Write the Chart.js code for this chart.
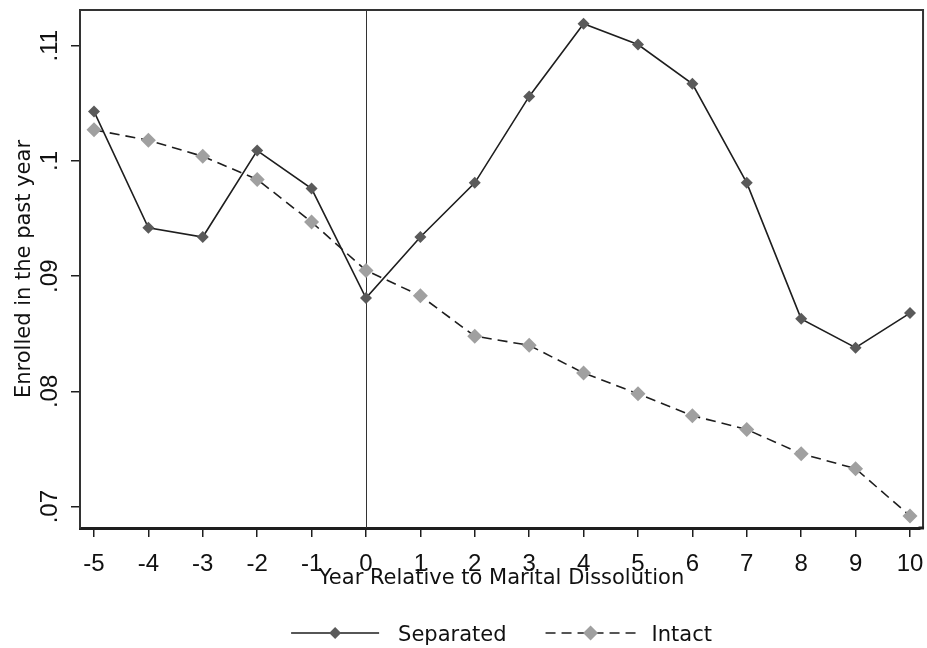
<!DOCTYPE html>
<html>
<head>
<meta charset="utf-8">
<script src="https://cdn.jsdelivr.net/npm/chart.js@4"></script>
<style>
html,body{margin:0;padding:0;background:#fff;}
#wrap{width:927px;height:648px;}
</style>
</head>
<body>
<div id="wrap"><canvas id="c" width="927" height="648"></canvas></div>
<script>
// ---- data ----
const years = [-5,-4,-3,-2,-1,0,1,2,3,4,5,6,7,8,9,10];
const separated = [0.1043,0.0942,0.0934,0.1009,0.0976,0.0881,0.0934,0.0981,0.1056,0.1119,0.1101,0.1067,0.0981,0.0863,0.0838,0.0868];
const intact = [0.1027,0.1018,0.1004,0.0984,0.0947,0.0905,0.0883,0.0848,0.0840,0.0816,0.0798,0.0779,0.0767,0.0746,0.0733,0.0692];
const yTicks = [0.07,0.08,0.09,0.10,0.11];
const yTickLabels = ['.07','.08','.09','.1','.11'];
const xTitle = 'Year Relative to Marital Dissolution';
const yTitle = 'Enrolled in the past year';
const seriesNames = ['Separated','Intact'];
const xFrameEnd = 10.24; // right edge of the plot frame, in x units

const TICK_FONT = '"Liberation Sans", Arial, sans-serif';
const TEXT_FONT = '"DejaVu Sans", sans-serif';
const INK = '#1e1e1e';
const SEP_MARK = '#5a5a5a';
const INT_MARK = '#a0a0a0';
const DASH = [10,6];
const ZERO_PAD = () => ({left: 0, top: 0, right: 0, bottom: 0});

const decor = {
  id: 'decor',
  beforeDatasetsDraw(chart) {
    const {ctx, chartArea: a, scales: {x}} = chart;
    ctx.save();
    const x0 = Math.round(x.getPixelForValue(0)) + 0.5;
    const xr = Math.min(chart.width - 3, x.getPixelForValue(xFrameEnd));
    ctx.strokeStyle = '#333';
    ctx.lineWidth = 1;
    ctx.beginPath(); ctx.moveTo(x0, a.top); ctx.lineTo(x0, a.bottom); ctx.stroke();
    // frame top / right
    ctx.lineWidth = 2;
    ctx.beginPath();
    ctx.moveTo(a.left, a.top); ctx.lineTo(xr, a.top); ctx.lineTo(xr, a.bottom);
    ctx.stroke();
    // extend the bottom axis line to the frame edge
    ctx.strokeStyle = INK;
    ctx.lineWidth = 3;
    ctx.beginPath(); ctx.moveTo(a.right - 1, a.bottom); ctx.lineTo(xr + 1, a.bottom); ctx.stroke();
    ctx.restore();
  },
  afterDraw(chart) {
    const {ctx, chartArea: a, scales: {x, y}} = chart;
    const xr = Math.min(chart.width - 3, x.getPixelForValue(xFrameEnd));
    ctx.save();
    ctx.fillStyle = '#111';
    ctx.font = '24px ' + TICK_FONT;
    ctx.textAlign = 'center';
    ctx.textBaseline = 'alphabetic';
    yTicks.forEach((v, i) => {
      const py = y.getPixelForValue(v);
      ctx.save(); ctx.translate(57, py); ctx.rotate(-Math.PI/2);
      ctx.fillText(yTickLabels[i], 0, 0); ctx.restore();
    });
    ctx.font = '21px ' + TEXT_FONT;
    ctx.save(); ctx.translate(30, (a.top + a.bottom)/2); ctx.rotate(-Math.PI/2);
    ctx.fillText(yTitle, 0, 0); ctx.restore();
    const cx = (a.left + xr)/2;
    ctx.fillText(xTitle, cx, 584);
    const ly = 633;
    const w1 = ctx.measureText(seriesNames[0]).width;
    const w2 = ctx.measureText(seriesNames[1]).width;
    const L1 = 88, G1 = 19, G2 = 39, L2 = 90, G3 = 16;
    const total = L1 + G1 + w1 + G2 + L2 + G3 + w2;
    let lx = cx - total/2;
    const ds = chart.data.datasets;
    ctx.strokeStyle = INK; ctx.lineWidth = 1.5;
    ctx.beginPath(); ctx.moveTo(lx, ly); ctx.lineTo(lx + L1, ly); ctx.stroke();
    drawDiamond(ctx, lx + L1/2, ly, ds[0].pointRadius, SEP_MARK);
    ctx.textAlign = 'left';
    ctx.fillStyle = '#111';
    ctx.fillText(seriesNames[0], lx + L1 + G1, ly + 8);
    lx += L1 + G1 + w1 + G2;
    ctx.setLineDash(DASH);
    ctx.beginPath(); ctx.moveTo(lx, ly); ctx.lineTo(lx + L2, ly); ctx.stroke();
    ctx.setLineDash([]);
    drawDiamond(ctx, lx + L2/2, ly, ds[1].pointRadius, INT_MARK);
    ctx.fillStyle = '#111';
    ctx.fillText(seriesNames[1], lx + L2 + G3, ly + 8);
    ctx.restore();
  }
};
function drawDiamond(ctx, x, y, r, color) {
  ctx.save();
  ctx.fillStyle = color;
  ctx.beginPath();
  ctx.moveTo(x, y - r); ctx.lineTo(x + r, y); ctx.lineTo(x, y + r); ctx.lineTo(x - r, y);
  ctx.closePath(); ctx.fill();
  ctx.restore();
}

new Chart(document.getElementById('c'), {
  type: 'line',
  data: {
    datasets: [
      {
        label: seriesNames[0],
        data: years.map((x, i) => ({x, y: separated[i]})),
        borderColor: INK, borderWidth: 1.6,
        pointStyle: 'rectRot', pointRadius: 6, pointBackgroundColor: SEP_MARK,
        pointBorderColor: SEP_MARK, pointBorderWidth: 0,
        fill: false, tension: 0, clip: false
      },
      {
        label: seriesNames[1],
        data: years.map((x, i) => ({x, y: intact[i]})),
        borderColor: INK, borderWidth: 1.6, borderDash: DASH,
        pointStyle: 'rectRot', pointRadius: 7.5, pointBackgroundColor: INT_MARK,
        pointBorderColor: INT_MARK, pointBorderWidth: 0,
        fill: false, tension: 0, clip: false
      }
    ]
  },
  options: {
    responsive: false,
    animation: false,
    devicePixelRatio: 1,
    layout: { padding: { left: 0, top: 10, right: 0, bottom: 0 } },
    plugins: { legend: { display: false }, tooltip: { enabled: false } },
    scales: {
      x: {
        type: 'linear', min: -5.257, max: 10.175,
        afterBuildTicks(s) { s.ticks = years.map(v => ({value: v})); },
        afterFit(s) { s.height = 120; s.paddingLeft = 0; s.paddingRight = 0; s.getPadding = ZERO_PAD; },
        grid: { display: true, drawOnChartArea: false, drawTicks: true, tickLength: 9, color: INK, lineWidth: 1.5 },
        border: { display: true, color: INK, width: 3 },
        ticks: { color: '#111', padding: 13, maxRotation: 0, autoSkip: false,
                 font: { family: TICK_FONT, size: 24 },
                 callback: v => String(v) }
      },
      y: {
        type: 'linear', min: 0.06815, max: 0.1131,
        afterBuildTicks(s) { s.ticks = yTicks.map(v => ({value: v})); },
        afterFit(s) { s.width = 80; s.paddingTop = 0; s.paddingBottom = 0; s.getPadding = ZERO_PAD; },
        grid: { display: true, drawOnChartArea: false, drawTicks: true, tickLength: 9, color: INK, lineWidth: 1.5 },
        border: { display: true, color: '#333', width: 2 },
        ticks: { display: false }
      }
    }
  },
  plugins: [decor]
});
</script>
</body>
</html>
